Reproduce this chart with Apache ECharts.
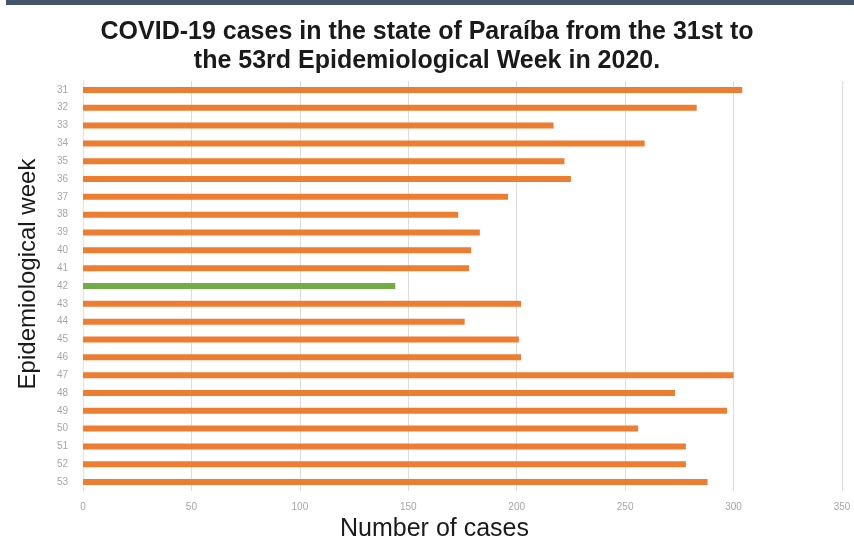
<!DOCTYPE html>
<html>
<head>
<meta charset="utf-8">
<script src="https://cdn.jsdelivr.net/npm/echarts@6/dist/echarts.min.js"></script>
<style>
html,body{margin:0;padding:0;background:#fff;}
#chart{width:854px;height:543px;}
</style>
</head>
<body>
<div id="chart"></div>
<script>
const weeks = ['31','32','33','34','35','36','37','38','39','40','41','42','43','44','45','46','47','48','49','50','51','52','53'];
const cases = [304,283,217,259,222,225,196,173,183,179,178,144,202,176,201,202,300,273,297,256,278,278,288];
const highlightWeek = '42';
const xTicks = [0,50,100,150,200,250,300,350];

const chart = echarts.init(document.getElementById('chart'));
chart.setOption({
  backgroundColor: '#ffffff',
  animation: false,
  graphic: [{
    type: 'rect', left: 6, top: 0,
    shape: {width: 848, height: 5},
    style: {fill: '#44546A'}
  }],
  title: {
    text: 'COVID-19 cases in the state of Paraíba from the 31st to\nthe 53rd Epidemiological Week in 2020.',
    left: 'center', top: 13,
    textStyle: {fontFamily: 'Liberation Sans', fontWeight: 'bold', fontSize: 25, lineHeight: 29, color: '#1a1a1a'}
  },
  grid: {left: 83, right: 12, top: 81, bottom: 52, outerBoundsMode: 'none', containLabel: false},
  xAxis: {
    type: 'value', min: 0, max: 350, interval: 50,
    name: 'Number of cases', nameLocation: 'middle', nameGap: 26,
    nameTextStyle: {fontFamily: 'Liberation Sans', fontSize: 25, color: '#1a1a1a', padding: [0, 56, 0, 0]},
    axisLine: {show: false}, axisTick: {show: false},
    axisLabel: {color: '#a6a6a6', fontSize: 10, margin: 11, formatter: v => xTicks.includes(v) ? String(v) : ''},
    splitLine: {show: true, lineStyle: {color: '#dcdcdc', width: 1}}
  },
  yAxis: {
    type: 'category', data: weeks, inverse: true,
    name: 'Epidemiological week', nameLocation: 'middle', nameGap: 43,
    nameTextStyle: {fontFamily: 'Liberation Sans', fontSize: 24, color: '#1a1a1a', padding: [0, 0, 0, 24]},
    axisLine: {show: true, lineStyle: {color: '#dde6ee'}}, axisTick: {show: false},
    axisLabel: {color: '#a6a6a6', fontSize: 10, margin: 15}
  },
  series: [{
    type: 'bar',
    barWidth: 6,
    data: cases.map((v, i) => ({
      value: v,
      itemStyle: {color: weeks[i] === highlightWeek ? '#70AD47' : '#ED7D31'}
    }))
  }]
});
</script>
</body>
</html>
